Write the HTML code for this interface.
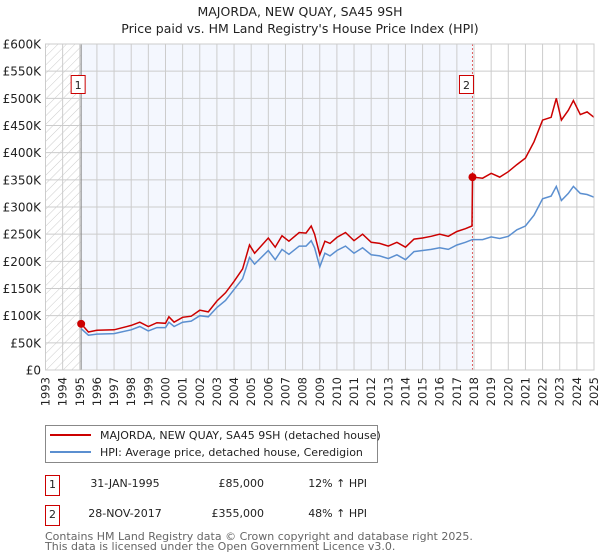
<!DOCTYPE html>
<html><head><meta charset="utf-8"><style>
body{margin:0;background:#fff;font-family:"DejaVu Sans","Liberation Sans",sans-serif;}
svg{display:block}
</style></head><body>
<svg id="chart" width="600" height="560" xmlns="http://www.w3.org/2000/svg" font-family="DejaVu Sans, Liberation Sans, sans-serif">
<defs><pattern id="hatch" width="6" height="6" patternUnits="userSpaceOnUse" patternTransform="rotate(45)"><line x1="0" y1="0" x2="0" y2="6" stroke="#ccc" stroke-width="1"/></pattern></defs>
<text x="300" y="16" text-anchor="middle" font-size="12.5" fill="#222">MAJORDA, NEW QUAY, SA45 9SH</text>
<text x="300" y="33" text-anchor="middle" font-size="12.5" fill="#222">Price paid vs. HM Land Registry's House Price Index (HPI)</text>
<g id="plot"></g>
<g>
<rect x="45.5" y="425.5" width="332" height="37" fill="#fff" stroke="#888"/>
<line x1="50" y1="435" x2="91" y2="435" stroke="#cc0000" stroke-width="2"/>
<text x="100" y="439" font-size="11" fill="#222">MAJORDA, NEW QUAY, SA45 9SH (detached house)</text>
<line x1="50" y1="452" x2="91" y2="452" stroke="#5b8fd0" stroke-width="2"/>
<text x="100" y="456" font-size="11" fill="#222">HPI: Average price, detached house, Ceredigion</text>
</g>
<g font-size="11" fill="#222">
<rect x="45.5" y="475.5" width="14" height="20" fill="#fff" stroke="#cc0000"/>
<text x="52.5" y="488" text-anchor="middle">1</text>
<text x="125" y="487" text-anchor="middle">31-JAN-1995</text>
<text x="264" y="487" text-anchor="end">£85,000</text>
<text x="367" y="487" text-anchor="end">12% ↑ HPI</text>
<rect x="45.5" y="505.5" width="14" height="20" fill="#fff" stroke="#cc0000"/>
<text x="52.5" y="518" text-anchor="middle">2</text>
<text x="125" y="517" text-anchor="middle">28-NOV-2017</text>
<text x="264" y="517" text-anchor="end">£355,000</text>
<text x="367" y="517" text-anchor="end">48% ↑ HPI</text>
</g>
<text x="45" y="540" font-size="11" fill="#666">Contains HM Land Registry data © Crown copyright and database right 2025.</text>
<text x="45" y="550" font-size="11" fill="#666">This data is licensed under the Open Government Licence v3.0.</text>
</svg>
<script>
const yearTicks=[1993,1994,1995,1996,1997,1998,1999,2000,2001,2002,2003,2004,2005,2006,2007,2008,2009,2010,2011,2012,2013,2014,2015,2016,2017,2018,2019,2020,2021,2022,2023,2024,2025];
const yTicks=[0,50000,100000,150000,200000,250000,300000,350000,400000,450000,500000,550000,600000];
const yTickLabels=["£0","£50K","£100K","£150K","£200K","£250K","£300K","£350K","£400K","£450K","£500K","£550K","£600K"];
const hpiDates=[1995.08,1995.5,1996,1997,1998,1998.5,1999,1999.5,2000,2000.2,2000.5,2001,2001.5,2002,2002.5,2003,2003.5,2004,2004.5,2004.9,2005.2,2006,2006.4,2006.8,2007.2,2007.8,2008.2,2008.5,2008.7,2009.0,2009.3,2009.6,2010,2010.5,2011,2011.5,2012,2012.5,2013,2013.5,2014,2014.5,2015,2015.5,2016,2016.5,2017,2017.5,2017.9,2018.5,2019,2019.5,2020,2020.5,2021,2021.5,2022,2022.5,2022.8,2023.1,2023.5,2023.8,2024.2,2024.6,2025];
const hpiValues=[76000,64000,66000,67000,74000,80000,72000,78000,78000,88000,80000,88000,90000,100000,98000,115000,128000,148000,168000,207000,195000,220000,203000,222000,213000,228000,228000,238000,225000,190000,215000,210000,220000,228000,215000,225000,212000,210000,205000,212000,203000,218000,220000,222000,225000,222000,230000,235000,240000,240000,245000,242000,246000,258000,265000,285000,315000,320000,338000,312000,325000,338000,325000,323000,318000];
const priceDates=[1995.08,1995.5,1996,1997,1998,1998.5,1999,1999.5,2000,2000.2,2000.5,2001,2001.5,2002,2002.5,2003,2003.5,2004,2004.5,2004.9,2005.2,2006,2006.4,2006.8,2007.2,2007.8,2008.2,2008.5,2008.7,2009.0,2009.3,2009.6,2010,2010.5,2011,2011.5,2012,2012.5,2013,2013.5,2014,2014.5,2015,2015.5,2016,2016.5,2017,2017.5,2017.88,2017.91,2018.5,2019,2019.5,2020,2020.5,2021,2021.5,2022,2022.5,2022.8,2023.1,2023.5,2023.8,2024.2,2024.6,2025];
const priceValues=[85000,70000,73000,74000,82000,88000,80000,87000,86000,98000,88000,97000,99000,110000,107000,127000,142000,163000,186000,230000,215000,243000,226000,247000,237000,253000,252000,265000,250000,212000,237000,233000,244000,253000,238000,250000,235000,233000,228000,235000,226000,241000,243000,246000,250000,246000,255000,260000,265000,355000,353000,362000,355000,365000,378000,390000,420000,460000,465000,500000,460000,478000,496000,470000,475000,465000];
const saleDates=[1995.08,2017.91];
const saleValues=[85000,355000];
const saleLabels=["1","2"];
const NS="http://www.w3.org/2000/svg";
const X0=45.5,X1=594,Y0=370,Y1=44,T0=1993,T1=2025,VMAX=600000;
const xs=t=>X0+(t-T0)/(T1-T0)*(X1-X0);
const ys=v=>Y0-v/VMAX*(Y0-Y1);
const plot=document.getElementById('plot');
function mk(tag,attrs,parent){const e=document.createElementNS(NS,tag);for(const k in attrs)e.setAttribute(k,attrs[k]);(parent||plot).appendChild(e);return e;}
const bg=mk('rect',{x:X0,y:Y1,width:X1-X0,height:Y0-Y1,fill:'#fff'});


const hatch=mk('rect',{x:X0,y:Y1,width:xs(saleDates[0])-X0,height:Y0-Y1,fill:'url(#hatch)'});


const shade=mk('rect',{x:xs(saleDates[0]),y:Y1,width:xs(saleDates[1])-xs(saleDates[0]),height:Y0-Y1,fill:'#f4f7fe'});


yearTicks.forEach(t=>{const l=mk('line',{x1:xs(t),x2:xs(t),y1:Y1,y2:Y0,stroke:'#ccc','stroke-width':1});


const tx=mk('text',{x:0,y:0,transform:`translate(${xs(t)+4},${Y0+7}) rotate(-90)`,'text-anchor':'end','font-size':11.5,fill:'#222'});tx.textContent=t;

});
yTicks.forEach((v,i)=>{const l=mk('line',{x1:X0,x2:X1,y1:ys(v),y2:ys(v),stroke:'#ccc','stroke-width':1});


const tx=mk('text',{x:41,y:ys(v)+4.5,'text-anchor':'end','font-size':12,fill:'#222'});tx.textContent=yTickLabels[i];

});
const v1=mk('line',{x1:xs(saleDates[0]),x2:xs(saleDates[0]),y1:Y1,y2:Y0,stroke:'#888','stroke-width':1});


const v2=mk('line',{x1:xs(saleDates[1]),x2:xs(saleDates[1]),y1:Y1,y2:Y0,stroke:'#e06060','stroke-width':1,'stroke-dasharray':'2,2'});


const path=(d,v)=>d.map((t,i)=>(i?'L':'M')+xs(t).toFixed(1)+','+ys(v[i]).toFixed(1)).join('');
const hp=mk('path',{d:path(hpiDates,hpiValues),fill:'none',stroke:'#5b8fd0','stroke-width':1.5});


const pp=mk('path',{d:path(priceDates,priceValues),fill:'none',stroke:'#cc0000','stroke-width':1.5});


saleDates.forEach((t,i)=>{const c=mk('circle',{cx:xs(t),cy:ys(saleValues[i]),r:4,fill:'#cc0000'});


const bx=xs(t)-(i?13:10);
const r=mk('rect',{x:bx,y:75.5,width:14,height:18,fill:'#fff',stroke:'#cc0000'});


const tx=mk('text',{x:bx+7,y:89,'text-anchor':'middle','font-size':11,fill:'#222'});tx.textContent=saleLabels[i];

});
const fr=mk('rect',{x:X0,y:Y1,width:X1-X0,height:Y0-Y1,fill:'none',stroke:'#ccc'});


</script>
</body></html>
